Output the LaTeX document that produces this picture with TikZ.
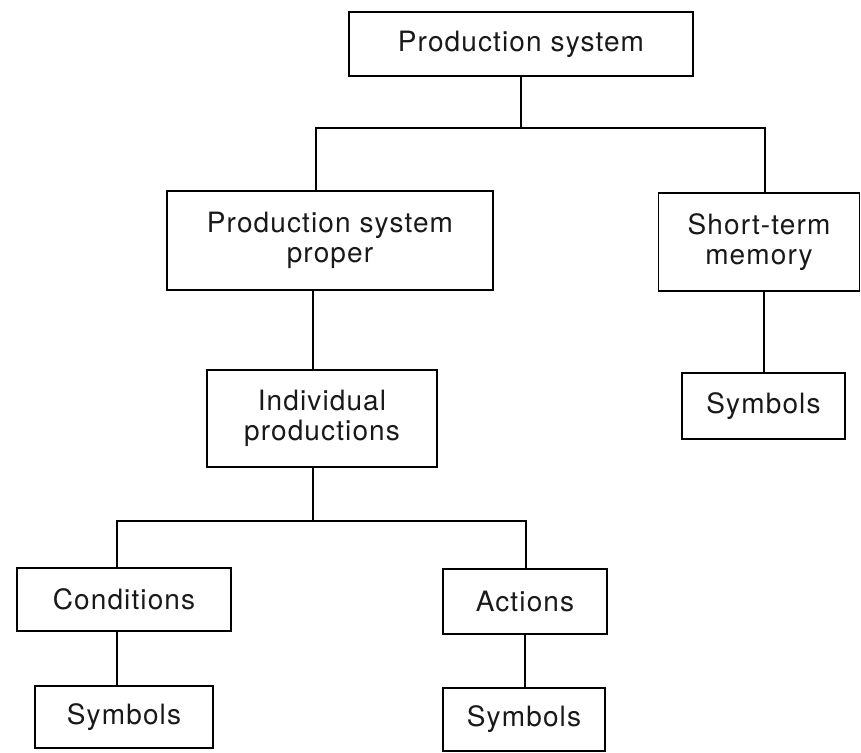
\documentclass[tikz,border=0pt]{standalone}
\usepackage{fontspec}
\setmainfont{TeX Gyre Heros}[LetterSpace=4]
\begin{document}
\begin{tikzpicture}[x=1pt,y=-1pt,
  box/.style={draw=black, line width=1.7pt, inner sep=0pt, align=center,
    font=\fontsize{28}{30}\selectfont, text=black!90},
  link/.style={draw=black, line width=1.4pt}]
\useasboundingbox (0,0) rectangle (861,752);

% boxes of the hierarchy
\node[box, minimum width=344pt, minimum height=64pt] (ps)   at (521,44)    {Production system};
\node[box, minimum width=326pt, minimum height=99pt] (psp)  at (330,240.5) {Production system\\proper};
\node[box, minimum width=201pt, minimum height=98pt] (stm)  at (759,242)   {Short-term\\memory};
\node[box, minimum width=230pt, minimum height=97pt] (ip)   at (322,418.5) {Individual\\productions};
\node[box, minimum width=163pt, minimum height=66pt] (syma) at (763.5,406) {Symbols};
\node[box, minimum width=214pt, minimum height=63pt] (cond) at (124,599.5) {Conditions};
\node[box, minimum width=164pt, minimum height=65pt] (act)  at (525,601.5) {Actions};
\node[box, minimum width=178pt, minimum height=62pt] (symb) at (124,717)   {Symbols};
\node[box, minimum width=162pt, minimum height=63pt] (symc) at (524,719.5) {Symbols};

% branch points of the tree
\coordinate (top) at ([yshift=-51pt]ps.south);
\coordinate (mid) at ([xshift=-9pt,yshift=-53pt]ip.south);

% connectors
\draw[link] (ps.south) -- (top);
\draw[link] ([xshift=-14pt]psp.north) |- (top) -| ([xshift=6pt]stm.north);
\draw[link] ([xshift=-17pt]psp.south) -- ([xshift=-9pt]ip.north);
\draw[link] ([xshift=5pt]stm.south) -- ([xshift=0.5pt]syma.north);
\draw[link] (mid) -- ([xshift=-9pt]ip.south);
\draw[link] ([xshift=-7pt]cond.north) |- (mid) -| ([xshift=1pt]act.north);
\draw[link] ([xshift=-7pt]cond.south) -- ([xshift=-7pt]symb.north);
\draw[link] (act.south) -- ([xshift=1pt]symc.north);
\end{tikzpicture}
\end{document}
